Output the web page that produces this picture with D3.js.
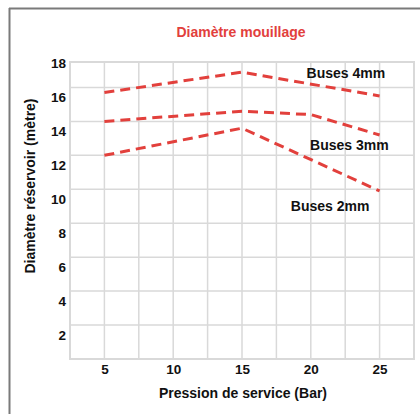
<!DOCTYPE html>
<html>
<head>
<meta charset="utf-8">
<script src="https://cdn.jsdelivr.net/npm/d3@7"></script>
<style>
  html, body { margin: 0; padding: 0; background: #fff; }
  svg { display: block; font-family: "Liberation Sans", Arial, sans-serif; }
</style>
</head>
<body>
<svg id="chart" width="420" height="414"></svg>
<script>
// données
const pressions4 = [5, 15, 25];
const diam4 = [15.7, 16.9, 15.5];
const pressions3 = [5, 15, 20, 25];
const diam3 = [14.0, 14.6, 14.4, 13.2];
const pressions2 = [5, 15, 25];
const diam2 = [12.0, 13.6, 9.9];
const seriesNames = ['Buses 4mm', 'Buses 3mm', 'Buses 2mm'];
const labelX = [22.55, 22.8, 21.4];
const labelY = [16.56, 12.3, 8.72];
const xTicks = [5, 10, 15, 20, 25];
const xGrid = [5, 7.5, 10, 12.5, 15, 17.5, 20, 22.5, 25];
const yTicks = [2, 4, 6, 8, 10, 12, 14, 16, 18];
const yGrid = [2, 4, 6, 8, 10, 12, 14, 16];

const svg = d3.select('#chart');
const plotL = 70, plotR = 414, plotT = 62, plotB = 359;
const red = '#e2403c';
const gridColor = '#d9d9d9';

const x = d3.scaleLinear().domain([2.5, 27.5]).range([plotL, plotR]);
const y = d3.scaleLinear().domain([0, 17.5]).range([plotB, plotT]);

// cadre
svg.append('line')
    .attr('x1', 9).attr('x2', 420).attr('y1', 8.5).attr('y2', 8.5)
    .attr('stroke', '#7a7a7a').attr('stroke-width', 2);
svg.append('line')
    .attr('x1', 9.5).attr('x2', 9.5).attr('y1', 8).attr('y2', 414)
    .attr('stroke', '#7a7a7a').attr('stroke-width', 2);

// titre
svg.append('text')
    .attr('x', 241).attr('y', 37)
    .attr('text-anchor', 'middle')
    .attr('fill', red)
    .style('font-size', '14px').style('font-weight', 'bold')
    .text('Diamètre mouillage');

// grille
const grid = svg.append('g');
grid.selectAll('.vg')
    .data(xGrid)
    .enter()
    .append('line')
    .attr('x1', d => x(d)).attr('x2', d => x(d))
    .attr('y1', plotT).attr('y2', plotB)
    .attr('stroke', gridColor).attr('stroke-width', 1.5);
grid.selectAll('.hg')
    .data(yGrid)
    .enter()
    .append('line')
    .attr('x1', plotL).attr('x2', plotR)
    .attr('y1', d => y(d)).attr('y2', d => y(d))
    .attr('stroke', gridColor).attr('stroke-width', 1.5);
grid.append('rect')
    .attr('x', plotL).attr('y', plotT)
    .attr('width', plotR - plotL).attr('height', plotB - plotT)
    .attr('fill', 'none')
    .attr('stroke', gridColor).attr('stroke-width', 2);

// axes
const xAxis = svg.append('g')
    .attr('transform', `translate(0, ${plotB})`)
    .call(d3.axisBottom(x).tickValues(xTicks).tickSize(0).tickPadding(5));
const yAxis = svg.append('g')
    .attr('transform', `translate(${plotL}, 0)`)
    .call(d3.axisLeft(y).tickValues(yTicks).tickSize(0).tickPadding(4));
[xAxis, yAxis].forEach(a => {
    a.select('.domain').remove();
    a.selectAll('text')
        .attr('fill', '#111')
        .style('font-size', '13.5px')
        .style('font-weight', 'bold')
        .style('font-family', '"Liberation Sans", Arial, sans-serif');
});
// les étiquettes de l'axe Y sont décalées sous les lignes
yAxis.selectAll('text').attr('dy', '1.05em');

svg.append('text')
    .attr('x', 243).attr('y', 398)
    .attr('text-anchor', 'middle')
    .attr('fill', '#111')
    .style('font-size', '14px').style('font-weight', 'bold')
    .text('Pression de service (Bar)');

svg.append('text')
    .attr('transform', 'translate(35, 186) rotate(-90)')
    .attr('text-anchor', 'middle')
    .attr('fill', '#111')
    .style('font-size', '14px').style('font-weight', 'bold')
    .text('Diamètre réservoir (mètre)');

// courbes
const series = [
    pressions4.map((p, i) => [p, diam4[i]]),
    pressions3.map((p, i) => [p, diam3[i]]),
    pressions2.map((p, i) => [p, diam2[i]])
];
const line = d3.line().x(d => x(d[0])).y(d => y(d[1]));
svg.append('g')
    .selectAll('path')
    .data(series)
    .enter()
    .append('path')
    .attr('d', line)
    .attr('fill', 'none')
    .attr('stroke', red)
    .attr('stroke-width', 3)
    .attr('stroke-dasharray', '10,6');

svg.append('g')
    .selectAll('text')
    .data(seriesNames)
    .enter()
    .append('text')
    .attr('x', (d, i) => x(labelX[i]))
    .attr('y', (d, i) => y(labelY[i]))
    .attr('text-anchor', 'middle')
    .attr('fill', '#111')
    .style('font-size', '14px').style('font-weight', 'bold')
    .text(d => d);
</script>
</body>
</html>
